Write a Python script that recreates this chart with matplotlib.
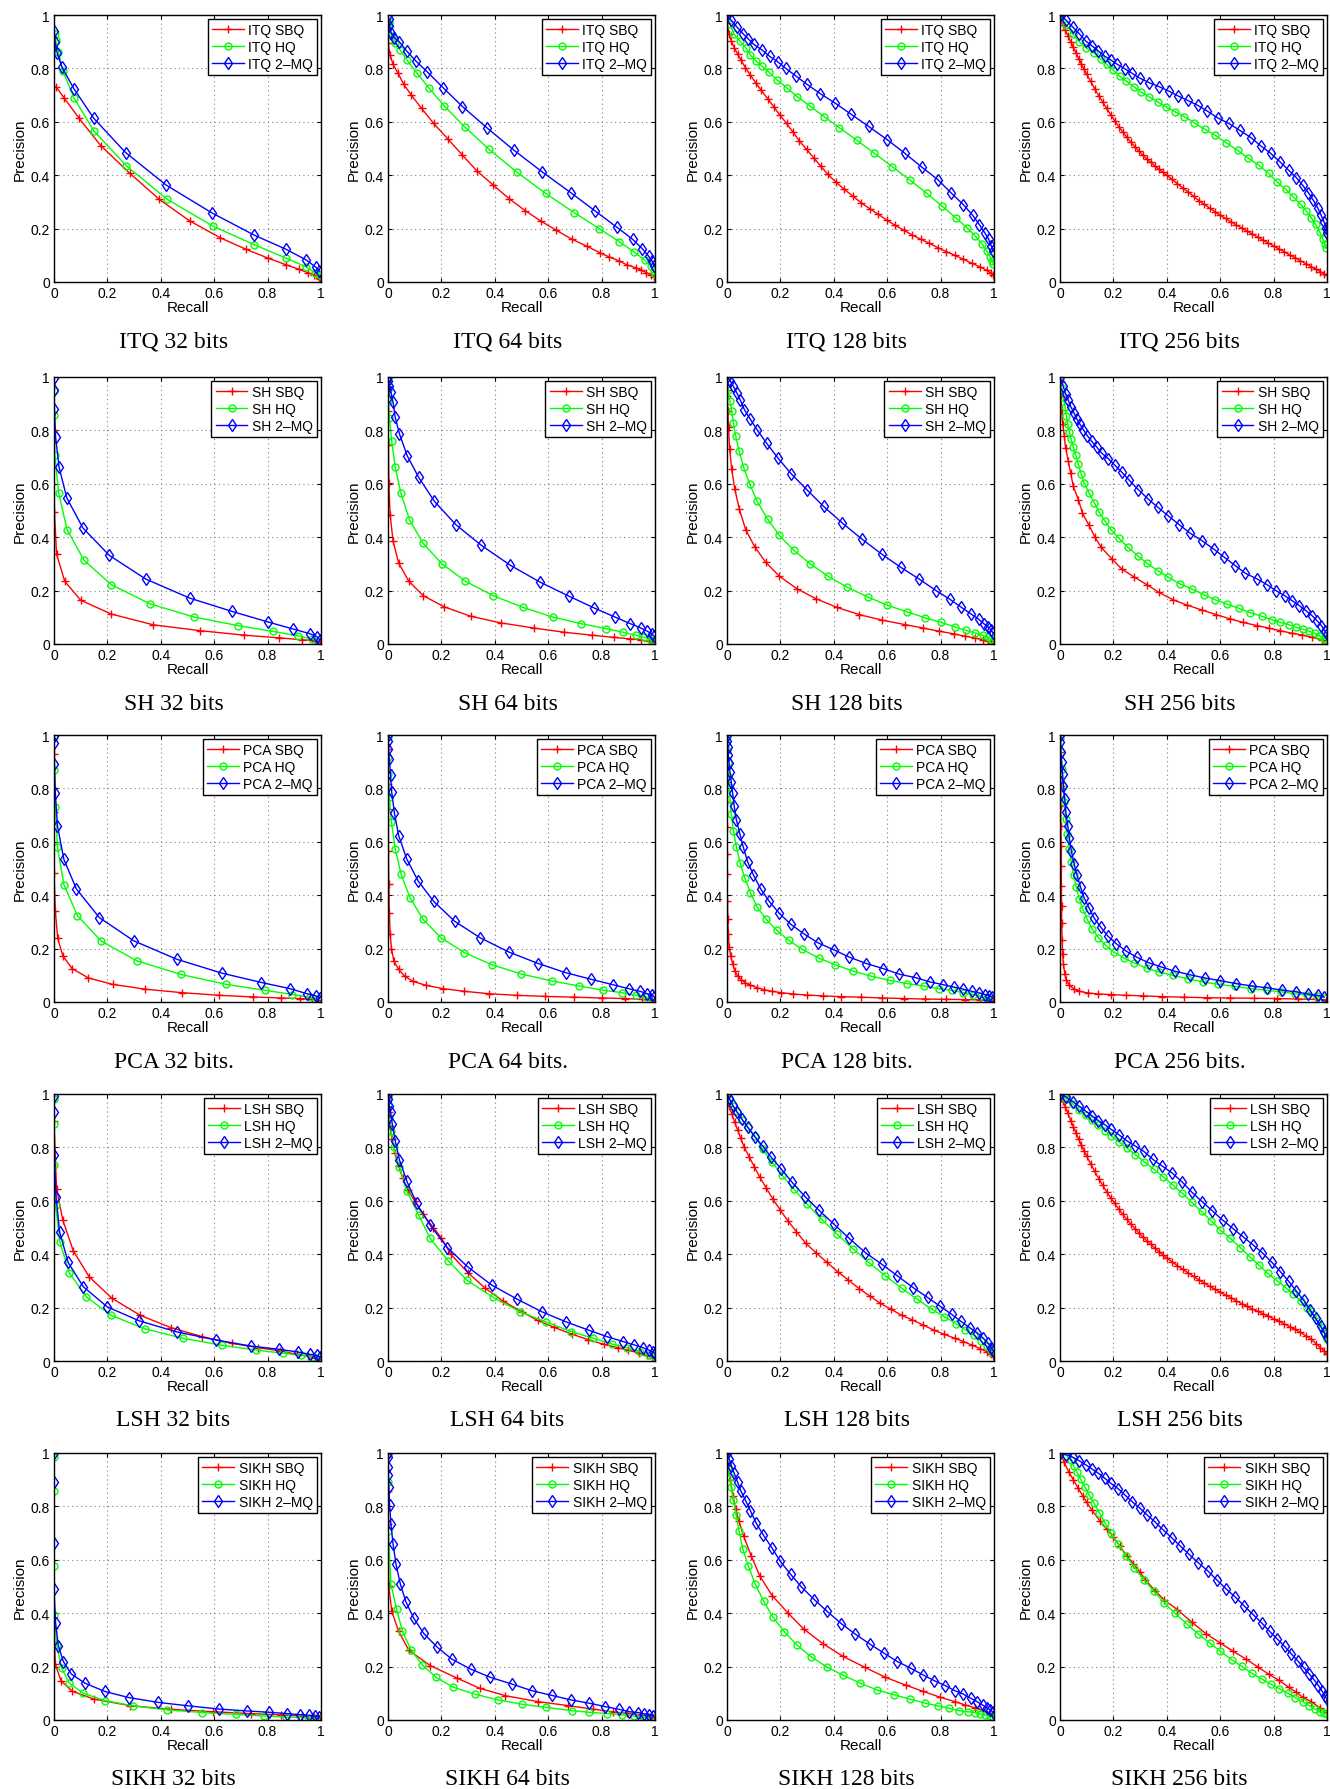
import matplotlib
matplotlib.use('Agg')
import matplotlib.pyplot as plt

# ---------------- data (recall / precision) ----------------
# ITQ
itq32_sbq_r = [0.0075, 0.038, 0.094, 0.175, 0.283, 0.395, 0.508, 0.622, 0.718, 0.80, 0.868, 0.916, 0.95, 0.975, 0.991, 0.998]
itq32_sbq_p = [0.731, 0.689, 0.613, 0.511, 0.408, 0.309, 0.229, 0.166, 0.123, 0.09, 0.065, 0.048, 0.035, 0.026, 0.016, 0.01]
itq32_hq_r = [0.002, 0.006, 0.016, 0.033, 0.075, 0.15, 0.271, 0.425, 0.594, 0.749, 0.868, 0.945, 0.977, 0.997]
itq32_hq_p = [0.93, 0.907, 0.863, 0.791, 0.689, 0.565, 0.435, 0.309, 0.21, 0.14, 0.09, 0.056, 0.035, 0.026]
itq32_mq_r = [0.001, 0.004, 0.0125, 0.03, 0.075, 0.149, 0.268, 0.42, 0.591, 0.749, 0.868, 0.944, 0.98, 0.994]
itq32_mq_p = [0.941, 0.898, 0.856, 0.804, 0.723, 0.613, 0.485, 0.363, 0.259, 0.176, 0.123, 0.083, 0.056, 0.041]

itq64_sbq_r = [0.0, 0.008, 0.019, 0.038, 0.059, 0.088, 0.126, 0.171, 0.223, 0.278, 0.333, 0.394, 0.455, 0.514, 0.573, 0.63, 0.689, 0.745, 0.793, 0.828, 0.866, 0.895, 0.927, 0.949, 0.968, 0.984, 0.995]
itq64_sbq_p = [0.896, 0.849, 0.815, 0.781, 0.74, 0.699, 0.65, 0.594, 0.537, 0.476, 0.416, 0.363, 0.311, 0.267, 0.228, 0.194, 0.16, 0.134, 0.11, 0.094, 0.079, 0.064, 0.054, 0.044, 0.035, 0.026, 0.02]
itq64_hq_r = [0.002, 0.005, 0.014, 0.027, 0.046, 0.072, 0.107, 0.152, 0.211, 0.287, 0.378, 0.482, 0.59, 0.697, 0.791, 0.866, 0.922, 0.962, 0.984, 0.995, 0.999]
itq64_hq_p = [0.975, 0.965, 0.921, 0.896, 0.868, 0.83, 0.784, 0.728, 0.659, 0.581, 0.497, 0.412, 0.332, 0.26, 0.2, 0.151, 0.112, 0.082, 0.06, 0.041, 0.03]
itq64_mq_r = [0.0, 0.002, 0.005, 0.011, 0.024, 0.043, 0.07, 0.104, 0.147, 0.206, 0.279, 0.37, 0.471, 0.578, 0.684, 0.777, 0.856, 0.916, 0.952, 0.976, 0.989, 0.997]
itq64_mq_p = [1.0, 0.984, 0.959, 0.934, 0.915, 0.899, 0.865, 0.828, 0.787, 0.728, 0.657, 0.578, 0.494, 0.412, 0.335, 0.265, 0.206, 0.16, 0.125, 0.097, 0.079, 0.06]

itq128_sbq_r = [0.0, 0.008, 0.016, 0.027, 0.04, 0.053, 0.069, 0.088, 0.107, 0.128, 0.152, 0.176, 0.199, 0.223, 0.247, 0.271, 0.298, 0.324, 0.351, 0.378, 0.407, 0.439, 0.471, 0.502, 0.534, 0.566, 0.598, 0.63, 0.662, 0.694, 0.726, 0.758, 0.789, 0.821, 0.853, 0.885, 0.917, 0.949, 0.973, 0.989, 0.997]
itq128_sbq_p = [0.971, 0.928, 0.903, 0.878, 0.853, 0.83, 0.803, 0.774, 0.747, 0.718, 0.687, 0.655, 0.624, 0.594, 0.562, 0.528, 0.497, 0.466, 0.434, 0.403, 0.375, 0.347, 0.322, 0.297, 0.275, 0.254, 0.232, 0.212, 0.194, 0.176, 0.16, 0.145, 0.129, 0.114, 0.1, 0.085, 0.07, 0.056, 0.044, 0.033, 0.025]
itq128_hq_r = [0.0, 0.011, 0.027, 0.048, 0.072, 0.088, 0.108, 0.131, 0.156, 0.187, 0.223, 0.263, 0.311, 0.364, 0.421, 0.486, 0.552, 0.619, 0.686, 0.748, 0.805, 0.856, 0.898, 0.93, 0.954, 0.973, 0.986, 0.994, 0.998]
itq128_hq_p = [0.998, 0.965, 0.928, 0.903, 0.875, 0.85, 0.828, 0.809, 0.787, 0.757, 0.728, 0.694, 0.659, 0.619, 0.578, 0.531, 0.482, 0.432, 0.381, 0.332, 0.285, 0.241, 0.204, 0.172, 0.144, 0.116, 0.094, 0.079, 0.066]
itq128_mq_r = [0.0, 0.016, 0.037, 0.06, 0.08, 0.1, 0.13, 0.16, 0.19, 0.22, 0.26, 0.3, 0.35, 0.405, 0.465, 0.53, 0.6, 0.665, 0.73, 0.79, 0.84, 0.885, 0.92, 0.945, 0.965, 0.98, 0.99, 0.997]
itq128_mq_p = [1.0, 0.98, 0.955, 0.93, 0.91, 0.89, 0.87, 0.845, 0.825, 0.8, 0.77, 0.74, 0.705, 0.67, 0.628, 0.583, 0.533, 0.483, 0.43, 0.383, 0.333, 0.29, 0.25, 0.215, 0.185, 0.16, 0.135, 0.115]

itq256_sbq_r = [0.0, 0.01, 0.02, 0.03, 0.04, 0.05, 0.06, 0.07, 0.08, 0.09, 0.1,
                0.115, 0.13, 0.145, 0.16, 0.175, 0.19, 0.205, 0.22, 0.235, 0.25, 0.265, 0.28, 0.295, 0.31, 0.325, 0.34, 0.355, 0.37, 0.385, 0.4,
                0.42, 0.44, 0.46, 0.48, 0.5, 0.52, 0.54, 0.56, 0.58, 0.6, 0.62, 0.64, 0.66, 0.68, 0.7, 0.72, 0.74, 0.76, 0.78, 0.8, 0.82, 0.84, 0.86, 0.88, 0.9, 0.92, 0.94, 0.96,
                0.975, 0.99, 1.0]
itq256_sbq_p = [0.985, 0.964, 0.943, 0.921, 0.9, 0.879, 0.858, 0.837, 0.817, 0.797, 0.778,
                0.751, 0.724, 0.698, 0.674, 0.65, 0.626, 0.604, 0.582, 0.562, 0.543, 0.524, 0.507, 0.491, 0.476, 0.461, 0.448, 0.435, 0.423, 0.411, 0.4,
                0.384, 0.368, 0.352, 0.337, 0.321, 0.305, 0.291, 0.277, 0.263, 0.25, 0.238, 0.226, 0.214, 0.202, 0.191, 0.18, 0.168, 0.157, 0.146, 0.135, 0.124, 0.113, 0.102, 0.091, 0.08, 0.069, 0.058, 0.047,
                0.039, 0.031, 0.025]
itq256_hq_r = [0.0, 0.024, 0.048, 0.072, 0.096, 0.128, 0.152, 0.175, 0.2, 0.223, 0.247, 0.276, 0.303, 0.335, 0.367, 0.396, 0.43, 0.466, 0.502, 0.542, 0.582, 0.622, 0.665, 0.705, 0.745, 0.781, 0.813, 0.845, 0.874, 0.901, 0.922, 0.941, 0.957, 0.973, 0.984, 0.992, 0.997]
itq256_hq_p = [0.998, 0.962, 0.928, 0.9, 0.878, 0.857, 0.836, 0.815, 0.793, 0.771, 0.753, 0.732, 0.712, 0.693, 0.674, 0.657, 0.638, 0.619, 0.597, 0.572, 0.549, 0.522, 0.493, 0.464, 0.437, 0.407, 0.375, 0.347, 0.318, 0.291, 0.266, 0.241, 0.216, 0.187, 0.162, 0.141, 0.129]
itq256_mq_r = [0.0, 0.024, 0.048, 0.072, 0.096, 0.12, 0.144, 0.167, 0.191, 0.215, 0.242, 0.271, 0.3, 0.335, 0.37, 0.407, 0.442, 0.478, 0.515, 0.552, 0.59, 0.632, 0.673, 0.715, 0.753, 0.789, 0.825, 0.856, 0.885, 0.909, 0.93, 0.949, 0.965, 0.978, 0.989, 0.997, 1.0]
itq256_mq_p = [1.0, 0.98, 0.955, 0.93, 0.903, 0.884, 0.865, 0.846, 0.831, 0.815, 0.799, 0.781, 0.763, 0.746, 0.732, 0.715, 0.697, 0.68, 0.662, 0.64, 0.615, 0.594, 0.568, 0.541, 0.509, 0.482, 0.449, 0.419, 0.391, 0.362, 0.335, 0.306, 0.278, 0.25, 0.225, 0.204, 0.185]

# SH
sh32_sbq_r = [0.0, 0.0016, 0.0095, 0.04, 0.1, 0.215, 0.371, 0.546, 0.713, 0.844, 0.928, 0.976, 0.995]
sh32_sbq_p = [0.80, 0.494, 0.337, 0.235, 0.164, 0.112, 0.072, 0.05, 0.033, 0.023, 0.016, 0.013, 0.008]
sh32_hq_r = [0.0, 0.0016, 0.003, 0.0175, 0.049, 0.113, 0.215, 0.358, 0.524, 0.689, 0.82, 0.912, 0.965, 0.992]
sh32_hq_p = [0.949, 0.856, 0.709, 0.566, 0.428, 0.313, 0.222, 0.151, 0.101, 0.069, 0.047, 0.031, 0.019, 0.01]
sh32_mq_r = [0.0, 0.0, 0.0016, 0.006, 0.019, 0.048, 0.108, 0.207, 0.344, 0.508, 0.667, 0.803, 0.896, 0.957, 0.984, 0.995]
sh32_mq_p = [0.996, 0.953, 0.88, 0.775, 0.662, 0.547, 0.435, 0.332, 0.243, 0.172, 0.122, 0.082, 0.056, 0.039, 0.028, 0.016]

sh64_sbq_r = [0.0, 0.0016, 0.003, 0.008, 0.019, 0.04, 0.078, 0.132, 0.211, 0.309, 0.423, 0.545, 0.66, 0.764, 0.845, 0.908, 0.949, 0.976, 0.992]
sh64_sbq_p = [0.871, 0.747, 0.603, 0.484, 0.385, 0.303, 0.235, 0.181, 0.139, 0.104, 0.079, 0.06, 0.044, 0.033, 0.025, 0.019, 0.015, 0.01, 0.006]
sh64_hq_r = [0.0, 0.0, 0.0016, 0.005, 0.014, 0.027, 0.048, 0.08, 0.131, 0.201, 0.29, 0.394, 0.506, 0.617, 0.724, 0.815, 0.88, 0.928, 0.96, 0.984, 0.997]
sh64_hq_p = [0.984, 0.953, 0.911, 0.847, 0.759, 0.662, 0.566, 0.466, 0.378, 0.301, 0.235, 0.181, 0.137, 0.101, 0.076, 0.058, 0.044, 0.033, 0.025, 0.016, 0.01]
sh64_mq_r = [0.0, 0.0016, 0.005, 0.011, 0.019, 0.027, 0.043, 0.072, 0.115, 0.174, 0.254, 0.349, 0.458, 0.569, 0.678, 0.772, 0.85, 0.908, 0.947, 0.971, 0.987, 0.997]
sh64_mq_p = [1.0, 0.984, 0.965, 0.943, 0.905, 0.849, 0.787, 0.705, 0.624, 0.534, 0.447, 0.37, 0.295, 0.232, 0.179, 0.135, 0.101, 0.076, 0.06, 0.048, 0.038, 0.029]

sh128_sbq_r = [0.0, 0.0016, 0.0016, 0.003, 0.006, 0.0096, 0.0175, 0.029, 0.046, 0.07, 0.104, 0.145, 0.196, 0.262, 0.332, 0.412, 0.496, 0.582, 0.665, 0.734, 0.794, 0.849, 0.893, 0.927, 0.957, 0.976, 0.989, 0.997]
sh128_sbq_p = [0.97, 0.953, 0.928, 0.874, 0.812, 0.732, 0.655, 0.581, 0.506, 0.428, 0.364, 0.306, 0.254, 0.207, 0.17, 0.137, 0.11, 0.089, 0.073, 0.06, 0.048, 0.038, 0.029, 0.023, 0.016, 0.013, 0.006, 0.004]
sh128_hq_r = [0.0, 0.005, 0.011, 0.018, 0.024, 0.032, 0.045, 0.062, 0.085, 0.113, 0.152, 0.196, 0.25, 0.311, 0.378, 0.451, 0.528, 0.601, 0.675, 0.742, 0.802, 0.853, 0.896, 0.93, 0.957, 0.976, 0.989, 0.997]
sh128_hq_p = [0.996, 0.953, 0.911, 0.871, 0.828, 0.78, 0.724, 0.662, 0.599, 0.534, 0.468, 0.407, 0.351, 0.301, 0.254, 0.212, 0.176, 0.145, 0.12, 0.098, 0.081, 0.064, 0.051, 0.041, 0.033, 0.025, 0.019, 0.013]
sh128_mq_r = [0.0, 0.013, 0.024, 0.037, 0.05, 0.065, 0.086, 0.112, 0.149, 0.192, 0.24, 0.3, 0.362, 0.432, 0.504, 0.579, 0.651, 0.72, 0.783, 0.834, 0.877, 0.913, 0.942, 0.962, 0.978, 0.989, 0.997]
sh128_mq_p = [1.0, 0.984, 0.965, 0.94, 0.913, 0.878, 0.844, 0.803, 0.751, 0.695, 0.638, 0.577, 0.515, 0.453, 0.394, 0.337, 0.287, 0.243, 0.2, 0.168, 0.138, 0.113, 0.093, 0.076, 0.064, 0.052, 0.04]

sh256_sbq_r = [0.0, 0.004, 0.006, 0.01, 0.016, 0.021, 0.031, 0.04, 0.05, 0.069, 0.084, 0.109, 0.131, 0.154, 0.194, 0.231, 0.279, 0.325, 0.369, 0.425, 0.475, 0.531, 0.585, 0.6375, 0.685, 0.7375, 0.784, 0.825, 0.869, 0.906, 0.944, 0.981, 1.0]
sh256_sbq_p = [0.98, 0.93, 0.875, 0.825, 0.78, 0.735, 0.685, 0.64, 0.59, 0.54, 0.49, 0.444, 0.40, 0.3625, 0.319, 0.281, 0.25, 0.2225, 0.194, 0.165, 0.146, 0.1275, 0.11, 0.094, 0.081, 0.069, 0.059, 0.05, 0.04, 0.034, 0.025, 0.016, 0.01]
sh256_hq_r = [0.0, 0.006, 0.012, 0.019, 0.024, 0.029, 0.035, 0.041, 0.05, 0.059, 0.069, 0.079, 0.091, 0.109, 0.129, 0.146, 0.169, 0.191, 0.221, 0.254, 0.291, 0.325, 0.366, 0.406, 0.45, 0.494, 0.5375, 0.581, 0.625, 0.669, 0.7125, 0.756, 0.794, 0.825, 0.856, 0.884, 0.91, 0.934, 0.954, 0.971, 0.9875, 0.9975]
sh256_hq_p = [0.995, 0.96, 0.925, 0.8875, 0.855, 0.825, 0.795, 0.769, 0.7375, 0.706, 0.6725, 0.6375, 0.6025, 0.565, 0.5275, 0.494, 0.46, 0.4275, 0.396, 0.3625, 0.331, 0.3025, 0.275, 0.25, 0.225, 0.206, 0.185, 0.166, 0.15, 0.134, 0.1175, 0.104, 0.091, 0.081, 0.0725, 0.0625, 0.055, 0.0475, 0.04, 0.031, 0.0225, 0.015]
sh256_mq_r = [0.0, 0.012, 0.021, 0.031, 0.041, 0.0525, 0.0625, 0.075, 0.0875, 0.1025, 0.119, 0.1375, 0.156, 0.181, 0.206, 0.231, 0.26, 0.294, 0.329, 0.366, 0.404, 0.446, 0.4875, 0.531, 0.575, 0.615, 0.656, 0.694, 0.7375, 0.775, 0.809, 0.841, 0.869, 0.896, 0.921, 0.944, 0.9625, 0.979, 0.991, 1.0]
sh256_mq_p = [1.0, 0.965, 0.9375, 0.9125, 0.8875, 0.865, 0.844, 0.8225, 0.8025, 0.78, 0.759, 0.7375, 0.715, 0.694, 0.669, 0.644, 0.6125, 0.5775, 0.544, 0.5125, 0.481, 0.4475, 0.415, 0.3875, 0.356, 0.325, 0.294, 0.265, 0.244, 0.2225, 0.2, 0.181, 0.1625, 0.144, 0.125, 0.106, 0.0875, 0.069, 0.05, 0.0375]

# PCA
pca32_sbq_r = [0.0, 0.0, 0.0, 0.005, 0.014, 0.033, 0.068, 0.129, 0.22, 0.342, 0.479, 0.619, 0.745, 0.849, 0.92, 0.965, 0.989]
pca32_sbq_p = [0.93, 0.713, 0.485, 0.34, 0.238, 0.173, 0.125, 0.09, 0.066, 0.048, 0.035, 0.025, 0.019, 0.015, 0.013, 0.01, 0.008]
pca32_hq_r = [0.0, 0.0016, 0.005, 0.013, 0.037, 0.088, 0.177, 0.311, 0.476, 0.645, 0.79, 0.893, 0.957, 0.989]
pca32_hq_p = [0.994, 0.869, 0.731, 0.581, 0.44, 0.323, 0.228, 0.154, 0.103, 0.066, 0.044, 0.028, 0.018, 0.01]
pca32_mq_r = [0.0, 0.0, 0.0016, 0.005, 0.013, 0.037, 0.084, 0.17, 0.299, 0.46, 0.629, 0.777, 0.884, 0.947, 0.981, 0.995]
pca32_mq_p = [0.998, 0.969, 0.891, 0.781, 0.66, 0.534, 0.423, 0.316, 0.229, 0.16, 0.108, 0.073, 0.05, 0.031, 0.023, 0.015]

pca64_sbq_r = [0.0, 0.0, 0.0016, 0.0016, 0.003, 0.005, 0.008, 0.013, 0.022, 0.04, 0.062, 0.094, 0.144, 0.207, 0.286, 0.378, 0.482, 0.589, 0.697, 0.801, 0.888, 0.952, 0.987]
pca64_sbq_p = [0.948, 0.817, 0.723, 0.567, 0.443, 0.334, 0.256, 0.2, 0.153, 0.122, 0.097, 0.077, 0.062, 0.05, 0.04, 0.031, 0.025, 0.021, 0.018, 0.015, 0.013, 0.01, 0.009]
pca64_hq_r = [0.0, 0.0, 0.0016, 0.005, 0.013, 0.027, 0.049, 0.083, 0.132, 0.198, 0.286, 0.388, 0.499, 0.613, 0.716, 0.806, 0.876, 0.928, 0.965, 0.989]
pca64_hq_p = [0.991, 0.916, 0.855, 0.767, 0.673, 0.574, 0.479, 0.389, 0.309, 0.241, 0.185, 0.14, 0.105, 0.079, 0.06, 0.044, 0.035, 0.025, 0.019, 0.013]
pca64_mq_r = [0.0, 0.0, 0.0016, 0.005, 0.0096, 0.014, 0.024, 0.04, 0.07, 0.113, 0.171, 0.25, 0.346, 0.453, 0.563, 0.665, 0.761, 0.841, 0.901, 0.944, 0.971, 0.989, 0.997]
pca64_mq_p = [1.0, 0.979, 0.948, 0.91, 0.85, 0.785, 0.708, 0.623, 0.536, 0.453, 0.377, 0.302, 0.24, 0.187, 0.144, 0.11, 0.085, 0.065, 0.05, 0.04, 0.031, 0.025, 0.019]

pca128_sbq_r = [0.0, 0.0, 0.0, 0.0, 0.0, 0.0, 0.0, 0.0016, 0.003, 0.005, 0.008, 0.014, 0.021, 0.029, 0.04, 0.053, 0.069, 0.088, 0.112, 0.139, 0.168, 0.203, 0.247, 0.298, 0.359, 0.426, 0.503, 0.582, 0.662, 0.742, 0.821, 0.893, 0.949, 0.981, 0.997]
pca128_sbq_p = [0.935, 0.879, 0.823, 0.748, 0.655, 0.555, 0.48, 0.38, 0.312, 0.256, 0.206, 0.172, 0.144, 0.116, 0.097, 0.084, 0.071, 0.063, 0.054, 0.046, 0.04, 0.035, 0.03, 0.026, 0.023, 0.02, 0.018, 0.015, 0.013, 0.011, 0.01, 0.009, 0.008, 0.006, 0.005]
pca128_hq_r = [0.0, 0.0016, 0.003, 0.005, 0.008, 0.011, 0.016, 0.024, 0.035, 0.049, 0.067, 0.088, 0.113, 0.147, 0.187, 0.231, 0.282, 0.343, 0.404, 0.471, 0.539, 0.609, 0.675, 0.737, 0.793, 0.841, 0.885, 0.92, 0.952, 0.976, 0.994]
pca128_hq_p = [0.991, 0.942, 0.898, 0.848, 0.804, 0.761, 0.705, 0.642, 0.582, 0.521, 0.464, 0.409, 0.355, 0.309, 0.268, 0.231, 0.197, 0.165, 0.14, 0.116, 0.097, 0.081, 0.069, 0.06, 0.05, 0.044, 0.035, 0.028, 0.021, 0.015, 0.01]
pca128_mq_r = [0.0, 0.0016, 0.003, 0.005, 0.008, 0.011, 0.016, 0.021, 0.027, 0.035, 0.048, 0.061, 0.077, 0.099, 0.126, 0.158, 0.195, 0.239, 0.287, 0.34, 0.399, 0.458, 0.522, 0.585, 0.646, 0.707, 0.761, 0.809, 0.85, 0.885, 0.917, 0.944, 0.965, 0.981, 0.994]
pca128_mq_p = [1.0, 0.979, 0.954, 0.925, 0.894, 0.86, 0.825, 0.783, 0.733, 0.683, 0.63, 0.58, 0.526, 0.476, 0.424, 0.377, 0.333, 0.291, 0.256, 0.222, 0.196, 0.168, 0.144, 0.125, 0.104, 0.091, 0.075, 0.065, 0.056, 0.048, 0.04, 0.034, 0.028, 0.023, 0.018]

pca256_sbq_r = [0.0016, 0.0016, 0.0016, 0.003, 0.003, 0.003, 0.005, 0.005, 0.005, 0.006, 0.006, 0.008, 0.0096, 0.013, 0.0175, 0.024, 0.035, 0.051, 0.072, 0.104, 0.144, 0.191, 0.247, 0.311, 0.383, 0.463, 0.55, 0.638, 0.726, 0.814, 0.893, 0.957, 0.997]
pca256_sbq_p = [0.985, 0.935, 0.873, 0.81, 0.735, 0.66, 0.584, 0.51, 0.434, 0.359, 0.297, 0.234, 0.178, 0.144, 0.106, 0.081, 0.063, 0.05, 0.04, 0.034, 0.03, 0.028, 0.025, 0.023, 0.02, 0.018, 0.016, 0.015, 0.014, 0.013, 0.011, 0.01, 0.008]
pca256_hq_r = [0.0016, 0.005, 0.008, 0.011, 0.016, 0.021, 0.027, 0.034, 0.042, 0.051, 0.061, 0.072, 0.085, 0.101, 0.12, 0.144, 0.171, 0.203, 0.239, 0.279, 0.324, 0.372, 0.423, 0.479, 0.536, 0.593, 0.654, 0.715, 0.774, 0.829, 0.88, 0.925, 0.962, 0.989]
pca256_hq_p = [0.991, 0.935, 0.873, 0.81, 0.748, 0.686, 0.63, 0.574, 0.524, 0.474, 0.43, 0.387, 0.349, 0.312, 0.274, 0.241, 0.212, 0.187, 0.165, 0.146, 0.127, 0.112, 0.1, 0.087, 0.075, 0.066, 0.059, 0.05, 0.044, 0.038, 0.031, 0.026, 0.021, 0.016]
pca256_mq_r = [0.0, 0.0016, 0.003, 0.006, 0.0096, 0.013, 0.018, 0.022, 0.029, 0.035, 0.043, 0.053, 0.064, 0.077, 0.091, 0.109, 0.128, 0.152, 0.179, 0.211, 0.247, 0.287, 0.332, 0.38, 0.431, 0.487, 0.542, 0.6, 0.659, 0.718, 0.777, 0.833, 0.885, 0.928, 0.965, 0.989]
pca256_mq_p = [1.0, 0.973, 0.935, 0.898, 0.854, 0.81, 0.761, 0.711, 0.661, 0.614, 0.564, 0.517, 0.474, 0.43, 0.389, 0.352, 0.314, 0.281, 0.247, 0.218, 0.191, 0.168, 0.147, 0.131, 0.115, 0.102, 0.09, 0.08, 0.069, 0.06, 0.053, 0.044, 0.038, 0.03, 0.025, 0.019]

# LSH
lsh32_sbq_r = [0.0, 0.0095, 0.033, 0.072, 0.132, 0.217, 0.323, 0.438, 0.556, 0.667, 0.763, 0.846, 0.909, 0.952, 0.979, 0.992]
lsh32_sbq_p = [0.9, 0.644, 0.528, 0.413, 0.315, 0.235, 0.171, 0.125, 0.091, 0.066, 0.05, 0.038, 0.025, 0.019, 0.013, 0.009]
lsh32_hq_r = [0.0, 0.0, 0.0016, 0.006, 0.022, 0.057, 0.121, 0.214, 0.339, 0.483, 0.629, 0.758, 0.857, 0.925, 0.97, 0.995]
lsh32_hq_p = [0.981, 0.888, 0.734, 0.584, 0.446, 0.331, 0.24, 0.171, 0.121, 0.085, 0.059, 0.041, 0.029, 0.021, 0.015, 0.009]
lsh32_mq_r = [0.0, 0.0, 0.0016, 0.008, 0.021, 0.053, 0.11, 0.199, 0.32, 0.46, 0.605, 0.737, 0.841, 0.912, 0.957, 0.984, 0.995]
lsh32_mq_p = [0.994, 0.931, 0.771, 0.613, 0.484, 0.369, 0.278, 0.203, 0.15, 0.109, 0.079, 0.056, 0.044, 0.034, 0.025, 0.021, 0.015]

lsh64_sbq_r = [0.0, 0.002, 0.007, 0.015, 0.026, 0.04, 0.055, 0.075, 0.1, 0.13, 0.17, 0.2, 0.235, 0.3, 0.365, 0.43, 0.5, 0.56, 0.62, 0.69, 0.75, 0.81, 0.86, 0.9, 0.94, 0.97, 0.99]
lsh64_sbq_p = [0.994, 0.934, 0.88, 0.83, 0.78, 0.73, 0.685, 0.64, 0.6, 0.55, 0.5, 0.46, 0.4, 0.33, 0.272, 0.225, 0.185, 0.152, 0.127, 0.1, 0.08, 0.062, 0.05, 0.04, 0.03, 0.021, 0.013]
lsh64_hq_r = [0.0, 0.0016, 0.003, 0.011, 0.022, 0.043, 0.07, 0.115, 0.158, 0.226, 0.295, 0.394, 0.493, 0.59, 0.686, 0.769, 0.84, 0.896, 0.944, 0.976, 1.0]
lsh64_hq_p = [0.988, 0.963, 0.913, 0.863, 0.8, 0.725, 0.638, 0.546, 0.459, 0.375, 0.303, 0.238, 0.185, 0.147, 0.11, 0.085, 0.063, 0.05, 0.034, 0.021, 0.015]
lsh64_mq_r = [0.0, 0.0016, 0.005, 0.0096, 0.016, 0.027, 0.043, 0.07, 0.107, 0.158, 0.222, 0.298, 0.389, 0.485, 0.577, 0.668, 0.753, 0.821, 0.88, 0.923, 0.955, 0.979, 0.992, 1.0]
lsh64_mq_p = [1.0, 0.981, 0.956, 0.931, 0.888, 0.825, 0.753, 0.675, 0.59, 0.509, 0.425, 0.353, 0.284, 0.231, 0.184, 0.146, 0.115, 0.091, 0.073, 0.06, 0.05, 0.04, 0.034, 0.028]

lsh128_sbq_r = [0.0, 0.008, 0.018, 0.029, 0.04, 0.051, 0.065, 0.083, 0.102, 0.123, 0.147, 0.172, 0.199, 0.228, 0.26, 0.295, 0.335, 0.375, 0.415, 0.455, 0.495, 0.534, 0.574, 0.614, 0.654, 0.694, 0.734, 0.774, 0.814, 0.853, 0.885, 0.917, 0.949, 0.973, 0.989, 0.997]
lsh128_sbq_p = [0.988, 0.956, 0.925, 0.894, 0.865, 0.835, 0.8, 0.765, 0.728, 0.688, 0.648, 0.606, 0.566, 0.525, 0.484, 0.441, 0.404, 0.369, 0.334, 0.303, 0.271, 0.244, 0.216, 0.194, 0.171, 0.154, 0.135, 0.116, 0.1, 0.085, 0.073, 0.06, 0.046, 0.035, 0.025, 0.019]
lsh128_hq_r = [0.0, 0.008, 0.021, 0.037, 0.056, 0.078, 0.104, 0.133, 0.168, 0.206, 0.25, 0.3, 0.354, 0.412, 0.471, 0.531, 0.593, 0.654, 0.713, 0.766, 0.814, 0.857, 0.893, 0.925, 0.952, 0.973, 0.989, 0.997]
lsh128_hq_p = [0.998, 0.981, 0.956, 0.931, 0.904, 0.875, 0.844, 0.794, 0.746, 0.696, 0.644, 0.588, 0.531, 0.475, 0.421, 0.369, 0.319, 0.273, 0.231, 0.194, 0.166, 0.14, 0.116, 0.096, 0.075, 0.056, 0.041, 0.029]
lsh128_mq_r = [0.0, 0.008, 0.021, 0.037, 0.056, 0.078, 0.104, 0.133, 0.164, 0.203, 0.244, 0.292, 0.343, 0.4, 0.458, 0.518, 0.579, 0.638, 0.697, 0.751, 0.797, 0.841, 0.877, 0.909, 0.936, 0.957, 0.976, 0.99, 0.998]
lsh128_mq_p = [1.0, 0.984, 0.959, 0.934, 0.906, 0.875, 0.84, 0.806, 0.765, 0.719, 0.669, 0.616, 0.566, 0.513, 0.459, 0.406, 0.363, 0.319, 0.275, 0.238, 0.206, 0.175, 0.148, 0.125, 0.106, 0.088, 0.069, 0.05, 0.038]

lsh256_sbq_r = [0.0, 0.01, 0.02, 0.03, 0.04, 0.05, 0.06, 0.07, 0.08, 0.09, 0.1,
                0.115, 0.13, 0.145, 0.16, 0.175, 0.19, 0.205, 0.22, 0.235, 0.25, 0.265, 0.28, 0.295, 0.31, 0.325, 0.34, 0.355, 0.37, 0.385, 0.4,
                0.42, 0.44, 0.46, 0.48, 0.5, 0.52, 0.54, 0.56, 0.58, 0.6, 0.62, 0.64, 0.66, 0.68, 0.7, 0.72, 0.74, 0.76, 0.78, 0.8, 0.82, 0.84, 0.86, 0.88, 0.9, 0.92, 0.94, 0.96,
                0.975, 0.99, 1.0]
lsh256_sbq_p = [0.996, 0.975, 0.952, 0.927, 0.9, 0.877, 0.854, 0.83, 0.808, 0.786, 0.767,
                0.738, 0.71, 0.683, 0.658, 0.633, 0.611, 0.59, 0.569, 0.549, 0.531, 0.513, 0.496, 0.48, 0.465, 0.45, 0.437, 0.423, 0.41, 0.398, 0.386,
                0.371, 0.357, 0.343, 0.33, 0.317, 0.304, 0.292, 0.28, 0.269, 0.258, 0.247, 0.237, 0.226, 0.215, 0.205, 0.195, 0.186, 0.177, 0.168, 0.158, 0.149, 0.139, 0.129, 0.118, 0.108, 0.095, 0.082, 0.064,
                0.05, 0.036, 0.025]
lsh256_hq_r = [0.0, 0.024, 0.048, 0.072, 0.096, 0.12, 0.144, 0.168, 0.191, 0.22, 0.25, 0.282, 0.316, 0.351, 0.386, 0.423, 0.458, 0.494, 0.53, 0.566, 0.601, 0.638, 0.675, 0.71, 0.745, 0.778, 0.814, 0.845, 0.874, 0.901, 0.925, 0.946, 0.965, 0.981, 0.992, 1.0]
lsh256_hq_p = [1.0, 0.981, 0.963, 0.941, 0.921, 0.903, 0.884, 0.863, 0.844, 0.821, 0.798, 0.773, 0.746, 0.719, 0.69, 0.659, 0.628, 0.594, 0.56, 0.525, 0.49, 0.459, 0.425, 0.391, 0.359, 0.328, 0.3, 0.275, 0.25, 0.225, 0.2, 0.175, 0.15, 0.125, 0.1, 0.081]
lsh256_mq_r = [0.0, 0.024, 0.048, 0.072, 0.096, 0.12, 0.144, 0.168, 0.191, 0.22, 0.25, 0.282, 0.314, 0.348, 0.383, 0.419, 0.458, 0.494, 0.533, 0.571, 0.609, 0.649, 0.686, 0.723, 0.758, 0.793, 0.825, 0.857, 0.885, 0.912, 0.936, 0.957, 0.976, 0.989, 1.0]
lsh256_mq_p = [1.0, 0.988, 0.971, 0.954, 0.936, 0.918, 0.9, 0.885, 0.868, 0.848, 0.825, 0.805, 0.785, 0.755, 0.73, 0.705, 0.67, 0.632, 0.596, 0.562, 0.528, 0.495, 0.465, 0.435, 0.405, 0.37, 0.335, 0.298, 0.262, 0.228, 0.192, 0.16, 0.13, 0.108, 0.09]

# SIKH
sikh32_sbq_r = [0.0, 0.005, 0.026, 0.069, 0.151, 0.283, 0.438, 0.594, 0.737, 0.852, 0.928, 0.973, 0.995]
sikh32_sbq_p = [0.345, 0.209, 0.147, 0.107, 0.078, 0.054, 0.04, 0.031, 0.024, 0.019, 0.015, 0.013, 0.009]
sikh32_hq_r = [0.0, 0.0, 0.0, 0.0016, 0.0096, 0.029, 0.057, 0.11, 0.19, 0.296, 0.422, 0.556, 0.682, 0.788, 0.87, 0.928, 0.968, 0.992]
sikh32_hq_p = [0.984, 0.856, 0.576, 0.395, 0.282, 0.194, 0.138, 0.1, 0.073, 0.053, 0.038, 0.028, 0.021, 0.015, 0.011, 0.009, 0.006, 0.005]
sikh32_mq_r = [0.0, 0.0, 0.0, 0.0, 0.006, 0.016, 0.035, 0.065, 0.116, 0.19, 0.28, 0.39, 0.503, 0.618, 0.721, 0.804, 0.873, 0.922, 0.956, 0.979, 0.992]
sikh32_mq_p = [1.0, 0.89, 0.664, 0.489, 0.364, 0.279, 0.219, 0.172, 0.138, 0.107, 0.084, 0.066, 0.053, 0.041, 0.034, 0.029, 0.024, 0.02, 0.018, 0.015, 0.013]

sikh64_sbq_r = [0.0, 0.0, 0.0, 0.003, 0.014, 0.04, 0.078, 0.158, 0.258, 0.343, 0.44, 0.561, 0.673, 0.766, 0.841, 0.896, 0.944, 0.976, 0.995]
sikh64_sbq_p = [1.0, 0.856, 0.733, 0.501, 0.407, 0.332, 0.261, 0.204, 0.157, 0.119, 0.091, 0.069, 0.054, 0.041, 0.031, 0.025, 0.019, 0.013, 0.009]
sikh64_hq_r = [0.0, 0.0, 0.0016, 0.011, 0.032, 0.054, 0.086, 0.128, 0.179, 0.244, 0.325, 0.413, 0.503, 0.593, 0.689, 0.753, 0.822, 0.876, 0.92, 0.96, 0.992]
sikh64_hq_p = [0.996, 0.89, 0.708, 0.508, 0.416, 0.332, 0.263, 0.207, 0.16, 0.123, 0.097, 0.075, 0.059, 0.047, 0.035, 0.029, 0.024, 0.019, 0.015, 0.01, 0.006]
sikh64_mq_r = [0.0, 0.0, 0.0016, 0.0016, 0.003, 0.006, 0.011, 0.019, 0.03, 0.046, 0.067, 0.096, 0.134, 0.184, 0.239, 0.309, 0.383, 0.463, 0.538, 0.614, 0.686, 0.753, 0.814, 0.865, 0.904, 0.936, 0.96, 0.979, 0.992]
sikh64_mq_p = [1.0, 0.984, 0.946, 0.919, 0.871, 0.806, 0.733, 0.658, 0.583, 0.51, 0.443, 0.382, 0.324, 0.273, 0.228, 0.191, 0.16, 0.135, 0.11, 0.092, 0.075, 0.063, 0.05, 0.04, 0.031, 0.028, 0.023, 0.019, 0.015]

sikh128_sbq_r = [0.0, 0.005, 0.012, 0.022, 0.032, 0.045, 0.062, 0.091, 0.123, 0.169, 0.228, 0.287, 0.359, 0.435, 0.515, 0.593, 0.671, 0.735, 0.799, 0.853, 0.893, 0.93, 0.96, 0.985, 0.997]
sikh128_sbq_p = [0.99, 0.95, 0.9, 0.84, 0.79, 0.745, 0.689, 0.614, 0.539, 0.466, 0.401, 0.341, 0.286, 0.238, 0.198, 0.16, 0.13, 0.107, 0.085, 0.069, 0.056, 0.045, 0.035, 0.025, 0.015]
sikh128_hq_r = [0.0, 0.005, 0.0096, 0.016, 0.024, 0.034, 0.045, 0.059, 0.08, 0.105, 0.137, 0.172, 0.215, 0.263, 0.316, 0.375, 0.436, 0.499, 0.563, 0.627, 0.686, 0.742, 0.789, 0.833, 0.869, 0.901, 0.928, 0.949, 0.968, 0.984, 0.997]
sikh128_hq_p = [0.996, 0.946, 0.909, 0.871, 0.823, 0.768, 0.708, 0.642, 0.577, 0.511, 0.445, 0.385, 0.33, 0.28, 0.236, 0.198, 0.167, 0.138, 0.112, 0.094, 0.078, 0.063, 0.053, 0.044, 0.035, 0.031, 0.028, 0.023, 0.019, 0.015, 0.01]
sikh128_mq_r = [0.0, 0.008, 0.016, 0.027, 0.04, 0.053, 0.07, 0.088, 0.11, 0.136, 0.168, 0.199, 0.239, 0.279, 0.327, 0.375, 0.428, 0.48, 0.534, 0.587, 0.638, 0.688, 0.734, 0.777, 0.817, 0.853, 0.885, 0.912, 0.936, 0.957, 0.973, 0.986, 0.997]
sikh128_mq_p = [1.0, 0.978, 0.952, 0.924, 0.89, 0.856, 0.821, 0.783, 0.736, 0.693, 0.645, 0.595, 0.545, 0.498, 0.451, 0.407, 0.361, 0.322, 0.285, 0.251, 0.219, 0.194, 0.169, 0.147, 0.129, 0.11, 0.097, 0.082, 0.069, 0.056, 0.046, 0.038, 0.029]

sikh256_sbq_r = [0.0, 0.016, 0.032, 0.05, 0.067, 0.085, 0.1, 0.12, 0.15, 0.175, 0.2, 0.225, 0.25, 0.275, 0.3, 0.32, 0.355, 0.39, 0.44, 0.494, 0.547, 0.598, 0.649, 0.697, 0.742, 0.781, 0.821, 0.856, 0.885, 0.909, 0.941, 0.973, 1.0]
sikh256_sbq_p = [1.0, 0.965, 0.93, 0.9, 0.87, 0.84, 0.815, 0.785, 0.745, 0.715, 0.685, 0.65, 0.615, 0.585, 0.553, 0.525, 0.485, 0.45, 0.413, 0.366, 0.323, 0.29, 0.257, 0.228, 0.198, 0.172, 0.148, 0.123, 0.104, 0.085, 0.069, 0.046, 0.03]
sikh256_hq_r = [0.0, 0.024, 0.04, 0.051, 0.064, 0.077, 0.093, 0.109, 0.128, 0.147, 0.168, 0.191, 0.219, 0.247, 0.279, 0.314, 0.351, 0.391, 0.431, 0.475, 0.518, 0.561, 0.601, 0.643, 0.681, 0.718, 0.755, 0.79, 0.822, 0.853, 0.882, 0.909, 0.933, 0.954, 0.973, 0.989, 1.0]
sikh256_hq_p = [1.0, 0.99, 0.974, 0.952, 0.927, 0.902, 0.873, 0.843, 0.811, 0.777, 0.739, 0.699, 0.658, 0.614, 0.57, 0.526, 0.483, 0.439, 0.399, 0.36, 0.322, 0.288, 0.257, 0.226, 0.201, 0.175, 0.154, 0.134, 0.117, 0.1, 0.084, 0.069, 0.054, 0.041, 0.031, 0.025, 0.021]
sikh256_mq_r = [0.0, 0.024, 0.048, 0.072, 0.096, 0.12, 0.144, 0.168, 0.191, 0.219, 0.244, 0.271, 0.3, 0.327, 0.356, 0.386, 0.418, 0.45, 0.484, 0.518, 0.554, 0.587, 0.622, 0.657, 0.691, 0.723, 0.755, 0.785, 0.814, 0.841, 0.866, 0.89, 0.912, 0.933, 0.952, 0.968, 0.981, 0.992, 1.0]
sikh256_mq_p = [1.0, 0.994, 0.984, 0.971, 0.956, 0.94, 0.924, 0.905, 0.886, 0.865, 0.842, 0.817, 0.793, 0.767, 0.742, 0.712, 0.683, 0.652, 0.62, 0.589, 0.558, 0.525, 0.491, 0.46, 0.426, 0.395, 0.364, 0.332, 0.303, 0.276, 0.248, 0.222, 0.197, 0.173, 0.15, 0.129, 0.109, 0.09, 0.078]

methods = ['ITQ', 'SH', 'PCA', 'LSH', 'SIKH']
bits = [32, 64, 128, 256]
title_suffix = {'ITQ': '', 'SH': '', 'PCA': '.', 'LSH': '', 'SIKH': ''}
tick_vals = [0, 0.2, 0.4, 0.6, 0.8, 1]
tick_labels = ['0', '0.2', '0.4', '0.6', '0.8', '1']

# ---------------- drawing ----------------
plt.rcParams['font.family'] = ['Liberation Sans', 'DejaVu Sans']

W, H = 1330, 1790
fig = plt.figure(figsize=(W / 100, H / 100), dpi=100)
lefts = [54, 388, 727, 1060]
tops = [16, 378, 736, 1095, 1454]
S = 267

series = [
    ('sbq', 'SBQ', (1, 0, 0), '+', dict(markersize=5.5)),
    ('hq', 'HQ', (0, 1, 0), 'o', dict(markersize=5, markerfacecolor='none')),
    ('mq', '2\u2013MQ', (0, 0, 1), 'd', dict(markersize=6, markerfacecolor='none')),
]
g = globals()

for i, m in enumerate(methods):
    for j, b in enumerate(bits):
        ax = fig.add_axes([lefts[j] / W, 1 - (tops[i] + S) / H, S / W, S / H])
        for key, lab, col, mk, kw in series:
            r = g[f'{m.lower()}{b}_{key}_r']
            p = g[f'{m.lower()}{b}_{key}_p']
            ax.plot(r, p, color=col, marker=mk, lw=1.0, mew=1.0,
                    label=f'{m} {lab}', **kw)
        ax.set_xlim(0, 1)
        ax.set_ylim(0, 1)
        ax.set_xticks(tick_vals)
        ax.set_xticklabels(tick_labels)
        ax.set_yticks(tick_vals)
        ax.set_yticklabels(tick_labels)
        ax.tick_params(direction='in', top=True, right=True, length=3,
                       labelsize=10, pad=3)
        ax.grid(True, color='#808080', linestyle=(0, (1, 3)), linewidth=0.8)
        for sp in ax.spines.values():
            sp.set_linewidth(1.0)
        ax.set_xlabel('Recall', fontsize=11, labelpad=0)
        ax.set_ylabel('Precision', fontsize=11, labelpad=3)
        leg = ax.legend(loc='upper right', fontsize=10, frameon=True,
                        fancybox=False, edgecolor='black', framealpha=1,
                        borderaxespad=0.3, borderpad=0.3, labelspacing=0.2,
                        handlelength=2.3, handletextpad=0.3)
        leg.get_frame().set_linewidth(1.0)
        fig.text((lefts[j] + S / 2 - 14) / W, 1 - (tops[i] + S + 59) / H,
                 f'{m} {b} bits{title_suffix[m]}', ha='center', va='center',
                 fontsize=17, family=['Liberation Serif', 'DejaVu Serif'])

fig.savefig('out.png', dpi=100)
